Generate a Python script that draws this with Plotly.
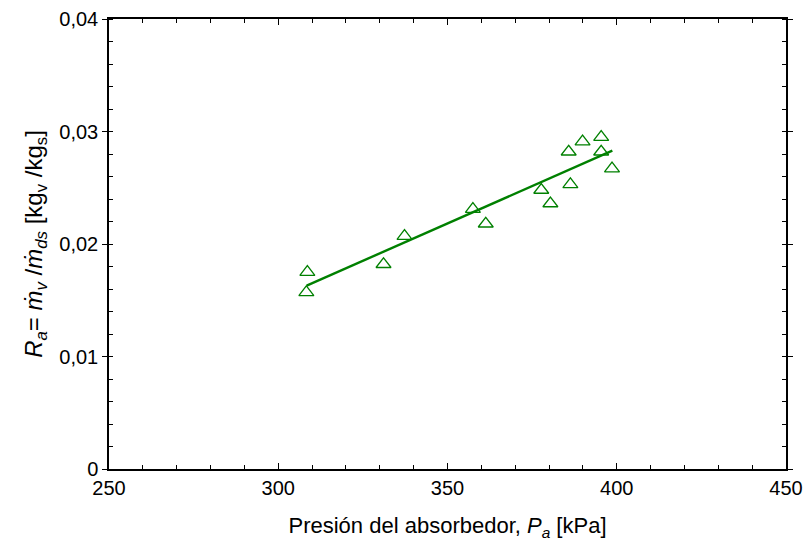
import plotly.graph_objects as go

# Measured absorber pressure [kPa] and absorption ratio R_a [kg_v/kg_s]
pressure_kpa = [308.6, 308.3, 331.1, 337.3, 357.5, 361.3, 377.7, 380.4,
                386.3, 385.8, 389.9, 395.4, 395.4, 398.6]
ratio = [0.0175, 0.0157, 0.0182, 0.0207, 0.0231, 0.0218, 0.0248, 0.0236,
         0.0253, 0.0282, 0.0291, 0.0295, 0.0282, 0.0267]

# Linear fit line end points
fit_pressure = [308.4, 398.7]
fit_ratio = [0.0163, 0.0283]

# Axis ticks
x_ticks = [250, 300, 350, 400, 450]
y_ticks = [0, 0.01, 0.02, 0.03, 0.04]
y_tick_text = ["0", "0,01", "0,02", "0,03", "0,04"]

GREEN = "#008000"
FONT = "Liberation Sans, Arial, sans-serif"

fig = go.Figure()
fig.add_trace(go.Scatter(
    x=fit_pressure, y=fit_ratio, mode="lines",
    line=dict(color=GREEN, width=2.4), showlegend=False,
))
fig.add_trace(go.Scatter(
    x=pressure_kpa, y=ratio, mode="markers",
    marker=dict(symbol="triangle-up-open", size=13,
                color=GREEN, line=dict(color=GREEN, width=1.3)),
    showlegend=False,
))

fig.update_layout(
    width=807, height=549,
    margin=dict(l=109, r=21, t=19, b=80),
    paper_bgcolor="white", plot_bgcolor="white",
    font=dict(family=FONT, size=20, color="black"),
    separators=", ",
)

fig.update_xaxes(
    range=[250, 450], tickvals=x_ticks, automargin=False,
    ticks="inside", ticklen=6, tickwidth=1, tickcolor="black",
    minor=dict(dtick=10, ticks="inside", ticklen=4, tickcolor="black"),
    showline=True, linecolor="black", linewidth=1.5, mirror="ticks",
    showgrid=False, zeroline=False,
    tickfont=dict(size=20),
    title=dict(text="Presión del absorbedor, <i>P<sub>a</sub></i> [kPa]",
               font=dict(size=22), standoff=20),
)

fig.update_yaxes(
    range=[0, 0.04], tickvals=y_ticks, ticktext=y_tick_text, automargin=False,
    ticks="outside", ticklen=5, tickwidth=1, tickcolor="black",
    minor=dict(dtick=0.002, ticks="inside", ticklen=4, tickcolor="black"),
    showline=True, linecolor="black", linewidth=1.5, mirror="ticks",
    showgrid=False, zeroline=False,
    tickfont=dict(size=20),
    title=dict(
        text="<i>R<sub>a</sub></i>= <i>ṁ<sub>v</sub></i> /<i>ṁ<sub>ds</sub></i>"
             " [kg<sub>v</sub> /kg<sub>s</sub>]",
        font=dict(size=24), standoff=10),
)

fig.write_html("out.html")
